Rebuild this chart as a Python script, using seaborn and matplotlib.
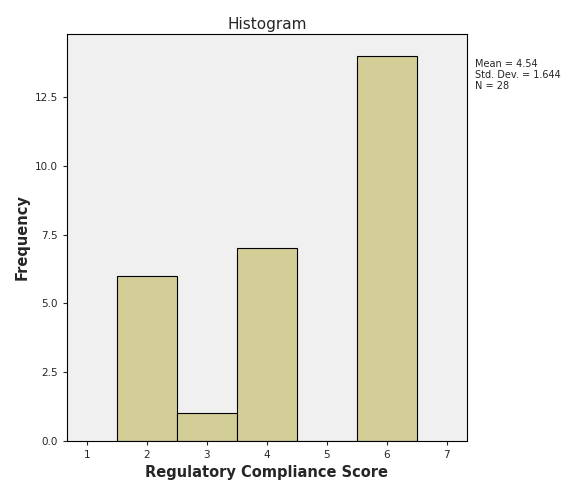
import matplotlib
matplotlib.use("Agg")
import matplotlib.pyplot as plt
import seaborn as sns
import pandas as pd

scores = [2, 3, 4, 6]
counts = [6, 1, 7, 14]
xticks = [1, 2, 3, 4, 5, 6, 7]
yticks = [0.0, 2.5, 5.0, 7.5, 10.0, 12.5]

sns.set_style("ticks")
plt.rcParams['font.family'] = ['DejaVu Sans']
df = pd.DataFrame({"score": scores, "count": counts})

fig = plt.figure(figsize=(5.63, 5.01), dpi=100)
ax = fig.add_axes([0.119, 0.12, 0.710, 0.812])
ax.set_facecolor("#F0F0F0")
sns.histplot(data=df, x="score", weights="count", discrete=True, ax=ax,
             color="#D3CE97", edgecolor="black", linewidth=0.8, alpha=1)
ax.set_xlim(0.667, 7.333)
ax.set_ylim(0, 14.79)
ax.set_xticks(xticks)
ax.set_yticks(yticks)
ax.set_yticklabels([f"{v:.1f}" for v in yticks])
ax.tick_params(labelsize=7.5, length=3)
for s in ax.spines.values():
    s.set_color("black"); s.set_linewidth(0.8)
ax.set_xlabel("Regulatory Compliance Score", fontsize=10.5, fontweight="bold")
ax.set_ylabel("Frequency", fontsize=10.5, fontweight="bold")
ax.set_title("Histogram", fontsize=11, pad=4)
fig.text(0.843, 0.882, "Mean = 4.54\nStd. Dev. = 1.644\nN = 28", fontsize=7,
         va="top", ha="left", linespacing=1.1)
fig.savefig("out.png", dpi=100)
